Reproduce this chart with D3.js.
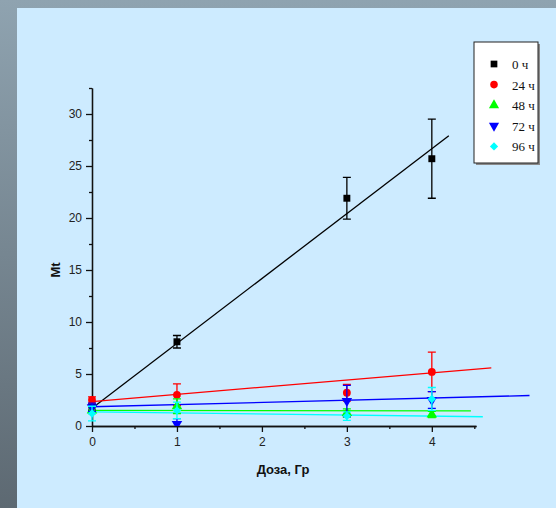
<!DOCTYPE html>
<html>
<head>
<meta charset="utf-8">
<script src="https://cdn.jsdelivr.net/npm/d3@7"></script>
<style>
  html, body { margin: 0; padding: 0; }
  body { width: 556px; height: 508px; overflow: hidden;
         background: linear-gradient(to bottom, #8fa3b0, #5d6972); }
  svg { display: block; }
</style>
</head>
<body>
<svg id="chart" width="556" height="508"></svg>
<script>
var width = 556, height = 508

// doses, Gy
var doses = [0, 1, 3, 4]
var seriesNames = ["0 ч", "24 ч", "48 ч", "72 ч", "96 ч"]
var seriesColors = ["#000000", "#ff0000", "#00ff00", "#0000ff", "#00ffff"]
var seriesSymbols = ["square", "circle", "up", "down", "diamond"]

// Mt values and errors for each series
var mt0  = [1.8, 8.1, 21.9, 25.7]
var mt24 = [2.5, 3.0, 3.2, 5.2]
var mt48 = [1.5, 1.9, 1.25, 1.1]
var mt72 = [1.8, 0.2, 2.4, 2.5]
var mt96 = [1.2, 1.5, 0.95, 2.6]
var err0  = [0.3, 0.6, 2.0, 3.8]
var err24 = [0.3, 1.05, 0.8, 1.9]
var err48 = [0.3, 0.7, 0.4, 0.3]
var err72 = [0.4, 0.5, 1.5, 0.8]
var err96 = [0.7, 0.8, 0.4, 1.1]

// linear fits: intercept, slope, x where the line stops
var fitIntercept = [1.7, 2.35, 1.5, 1.85, 1.35]
var fitSlope     = [6.24, 0.69, -0.01, 0.21, -0.1]
var fitEnd       = [4.2, 4.7, 4.46, 5.15, 4.6]

var xTicks = [0, 1, 2, 3, 4]
var yTicks = [0, 5, 10, 15, 20, 25, 30]

var values = [mt0, mt24, mt48, mt72, mt96]
var errors = [err0, err24, err48, err72, err96]

var svg = d3.select("#chart")

// light blue panel
svg.append("rect")
    .attr("x", 17).attr("y", 8)
    .attr("width", width - 17).attr("height", height - 8)
    .attr("fill", "#cdebff")

var x = d3.scaleLinear().domain([0, 4.52]).range([92, 476])
var y = d3.scaleLinear().domain([0, 32.5]).range([426, 88])

svg.append("clipPath").attr("id", "clip")
  .append("rect").attr("x", 0).attr("y", 0).attr("width", width).attr("height", y(0))

function symbolPath(s, size) {
  var type = {square: d3.symbolSquare, circle: d3.symbolCircle, up: d3.symbolTriangle,
              down: d3.symbolTriangle, diamond: d3.symbolSquare}[s]
  return d3.symbol(type, size)()
}
function symbolRotate(s) {
  if (s === "down") return " rotate(180)"
  if (s === "diamond") return " rotate(45)"
  return ""
}

// axes
var fontAxis = "'Liberation Sans', Arial, sans-serif"

svg.append("g").attr("transform", `translate(0,${y(0)})`)
    .call(d3.axisBottom(x).tickValues(d3.range(0.5, 4.6, 1)).tickSize(3).tickSizeOuter(0).tickFormat(""))
svg.append("g").attr("transform", `translate(0,${y(0)})`)
    .call(d3.axisBottom(x).tickValues(xTicks).tickSize(6).tickSizeOuter(0).tickPadding(5).tickFormat(d3.format("d")))
svg.append("g").attr("transform", `translate(${x(0)},0)`)
    .call(d3.axisLeft(y).tickValues(d3.range(2.5, 32.6, 5)).tickSize(3).tickSizeOuter(0).tickFormat(""))
svg.append("g").attr("transform", `translate(${x(0)},0)`)
    .call(d3.axisLeft(y).tickValues(yTicks).tickSize(6).tickSizeOuter(0).tickPadding(4).tickFormat(d3.format("d")))

svg.selectAll(".domain, .tick line").attr("stroke", "#111").attr("stroke-width", 1.3)
svg.selectAll(".tick text").attr("font-family", fontAxis).attr("font-size", 12).attr("fill", "#222")

svg.append("text")
    .attr("x", 283).attr("y", 474)
    .attr("text-anchor", "middle")
    .attr("font-family", fontAxis).attr("font-weight", "bold").attr("font-size", 13)
    .attr("fill", "#111")
    .text("Доза, Гр")

svg.append("text")
    .attr("transform", "translate(60,270) rotate(-90)")
    .attr("text-anchor", "middle")
    .attr("font-family", fontAxis).attr("font-weight", "bold").attr("font-size", 13)
    .attr("fill", "#111")
    .text("Mt")

var plot = svg.append("g").attr("clip-path", "url(#clip)")

// fit lines
seriesNames.forEach(function(name, i) {
  plot.append("line")
      .attr("x1", x(0)).attr("y1", y(fitIntercept[i]))
      .attr("x2", x(fitEnd[i])).attr("y2", y(fitIntercept[i] + fitSlope[i] * fitEnd[i]))
      .attr("stroke", seriesColors[i])
      .attr("stroke-width", 1.3)
})

// error bars and markers
seriesNames.forEach(function(name, i) {
  var g = plot.append("g")
  var pts = doses.map((d, j) => ({x: d, v: values[i][j], e: errors[i][j]}))
  var c = seriesColors[i]
  g.selectAll(".bar").data(pts).enter().append("path")
      .attr("d", d => {
        var cx = x(d.x), t = y(d.v + d.e), b = y(d.v - d.e)
        return `M${cx},${t}V${b}M${cx - 4},${t}H${cx + 4}M${cx - 4},${b}H${cx + 4}`
      })
      .attr("stroke", c).attr("stroke-width", 1.3).attr("fill", "none")
  g.selectAll(".pt").data(pts).enter().append("path")
      .attr("d", symbolPath(seriesSymbols[i], seriesSymbols[i] === "diamond" ? 36 : 48))
      .attr("transform", d => `translate(${x(d.x)},${y(d.v)})` + symbolRotate(seriesSymbols[i]))
      .attr("fill", c)
})

// legend
var lg = svg.append("g").attr("transform", "translate(474,42)")
lg.append("rect").attr("x", 2).attr("y", 2).attr("width", 64).attr("height", 121).attr("fill", "#8a8a8a")
lg.append("rect").attr("width", 64).attr("height", 121).attr("fill", "#ffffff").attr("stroke", "#222").attr("stroke-width", 1)
seriesNames.forEach(function(name, i) {
  var ry = 22 + i * 20.6
  lg.append("path")
      .attr("d", symbolPath(seriesSymbols[i], seriesSymbols[i] === "diamond" ? 34 : 45))
      .attr("transform", `translate(20,${ry})` + symbolRotate(seriesSymbols[i]))
      .attr("fill", seriesColors[i])
  lg.append("text")
      .attr("x", 38).attr("y", ry + 5)
      .attr("font-family", "'Liberation Serif', 'Times New Roman', serif")
      .attr("font-size", 13)
      .attr("fill", "#111")
      .text(name)
})
</script>
</body>
</html>
